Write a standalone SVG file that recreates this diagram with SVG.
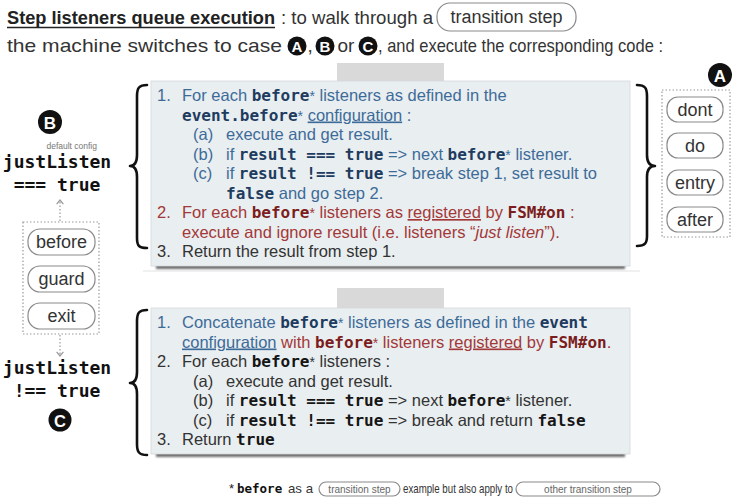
<svg xmlns="http://www.w3.org/2000/svg" width="740" height="498" viewBox="0 0 740 498">
<defs>
<style>
.sans{font-family:"Liberation Sans",Arial,Helvetica,sans-serif}
.t{font-family:"Liberation Sans",Arial,Helvetica,sans-serif;font-size:16.5px}
.m{font-family:"DejaVu Sans Mono","Liberation Mono",monospace;font-weight:bold;font-size:16px}
.ast{font-family:"Liberation Sans",Arial,sans-serif;font-weight:normal;font-size:14px}
.blu{fill:#3d6b99}
.nav{fill:#1e3b60}
.red{fill:#a33838}
.drd{fill:#7c1d1d}
.blk{fill:#333}
.kc{fill:#151515}
.u{text-decoration:underline}
.pill{fill:#fff;stroke:#8a8a8a;stroke-width:1.2}
.pt{font-family:"Liberation Sans",Arial,Helvetica,sans-serif;font-size:18px;fill:#333;text-anchor:middle}
.dot{fill:none;stroke:#9a9a9a;stroke-width:1.2;stroke-dasharray:1.5 2}
.brace{fill:none;stroke:#111;stroke-width:2.6;stroke-linecap:round;stroke-linejoin:round}
.badge{fill:#111}
.bl{font-family:"Liberation Sans",Arial,Helvetica,sans-serif;font-weight:bold;fill:#fff;text-anchor:middle}
.jl{font-family:"DejaVu Sans Mono","Liberation Mono",monospace;font-weight:bold;font-size:18px;fill:#111;text-anchor:middle}
.paper{fill:#e9eef0;stroke:#d3d8da;stroke-width:0.8}
.tab{fill:#d9d9d9}
.shadow{fill:#6d6d6d}
</style>
<filter id="blur" x="-5%" y="-100%" width="110%" height="300%"><feGaussianBlur stdDeviation="1.2"/></filter>
<marker id="arr" viewBox="0 0 10 10" refX="6" refY="5" markerWidth="7" markerHeight="7" orient="auto-start-reverse"><path d="M1,1 L6,5 L1,9" fill="none" stroke="#9a9a9a" stroke-width="1.5"/></marker>
</defs>
<rect width="740" height="498" fill="#fff"/>

<g id="title" class="sans">
<text x="7" y="24" font-weight="bold" font-size="18" fill="#222" textLength="268" lengthAdjust="spacingAndGlyphs">Step listeners queue execution</text>
<line x1="7" y1="27.5" x2="275" y2="27.5" stroke="#222" stroke-width="1.5"/>
<text x="281" y="24" font-size="19" fill="#333" textLength="152" lengthAdjust="spacingAndGlyphs">: to walk through a</text>
<rect class="pill" x="437" y="3" width="139" height="28" rx="13"/>
<text x="506.5" y="23" class="pt" font-size="19">transition step</text>
<text x="7" y="52" font-size="19" fill="#333" textLength="275" lengthAdjust="spacingAndGlyphs">the machine switches to case</text>
<circle class="badge" cx="297" cy="46" r="9.5"/>
<text x="297" y="51.5" class="bl" font-size="15">A</text>
<text x="307.5" y="52" font-size="19" fill="#333">,</text>
<circle class="badge" cx="325" cy="46" r="9.5"/>
<text x="325" y="51.5" class="bl" font-size="15">B</text>
<text x="337.5" y="52" font-size="19" fill="#333">or</text>
<circle class="badge" cx="368" cy="46" r="9.5"/>
<text x="368" y="51.5" class="bl" font-size="15">C</text>
<text x="378" y="52" font-size="19" fill="#333" textLength="285" lengthAdjust="spacingAndGlyphs">, and execute the corresponding code :</text>
</g>

<g id="box-top">
<rect class="tab" x="337" y="63" width="107" height="19"/>
<path class="shadow" d="M156,263 L625,263 L625,269 L156,269 Z" filter="url(#blur)"/>
<rect class="paper" x="151" y="81" width="479" height="185"/>
<line x1="143" y1="271" x2="640" y2="271" stroke="#e2e2e2" stroke-width="1"/>
<text x="157" y="101" class="t blu">1.</text>
<text x="182" y="101" class="t blu">For each <tspan class="m nav">before</tspan><tspan class="ast">*</tspan> listeners as defined in the</text>
<text x="182" y="120.5" class="t blu"><tspan class="m nav">event.before</tspan><tspan class="ast">*</tspan> <tspan class="u">configuration</tspan> :</text>
<text x="193" y="140" class="t blu">(a)</text>
<text x="226" y="140" class="t blu">execute and get result.</text>
<text x="193" y="159.5" class="t blu">(b)</text>
<text x="226" y="159.5" class="t blu">if <tspan class="m nav">result === true</tspan> =&gt; next <tspan class="m nav">before</tspan><tspan class="ast">*</tspan> listener.</text>
<text x="193" y="179" class="t blu">(c)</text>
<text x="226" y="179" class="t blu">if <tspan class="m nav">result !== true</tspan> =&gt; break step 1, set result to</text>
<text x="226" y="198.5" class="t blu"><tspan class="m nav">false</tspan> and go step 2.</text>
<text x="157" y="218" class="t red">2.</text>
<text x="182" y="218" class="t red">For each <tspan class="m drd">before</tspan><tspan class="ast">*</tspan> listeners as <tspan class="u">registered</tspan> by <tspan class="m drd">FSM#on</tspan> :</text>
<text x="182" y="237.5" class="t red">execute and ignore result (i.e. listeners “<tspan font-style="italic">just listen</tspan>”).</text>
<text x="157" y="257" class="t blk">3.</text>
<text x="182" y="257" class="t blk">Return the result from step 1.</text>
</g>

<g id="box-bottom">
<rect class="tab" x="337" y="288" width="107" height="21"/>
<path class="shadow" d="M156,451 L625,451 L625,457 L156,457 Z" filter="url(#blur)"/>
<rect class="paper" x="151" y="308" width="479" height="146"/>
<text x="157" y="328" class="t blu">1.</text>
<text x="182" y="328" class="t blu">Concatenate <tspan class="m nav">before</tspan><tspan class="ast">*</tspan> listeners as defined in the <tspan class="m nav">event</tspan></text>
<text x="182" y="347.5" class="t"><tspan class="blu u">configuration</tspan><tspan class="red"> with </tspan><tspan class="m drd">before</tspan><tspan class="ast red">*</tspan><tspan class="red"> listeners </tspan><tspan class="red u">registered</tspan><tspan class="red"> by </tspan><tspan class="m drd">FSM#on</tspan><tspan class="red">.</tspan></text>
<text x="157" y="367" class="t blk">2.</text>
<text x="182" y="367" class="t blk">For each <tspan class="m kc">before</tspan><tspan class="ast">*</tspan> listeners :</text>
<text x="193" y="386.5" class="t blk">(a)</text>
<text x="226" y="386.5" class="t blk">execute and get result.</text>
<text x="193" y="406" class="t blk">(b)</text>
<text x="226" y="406" class="t blk">if <tspan class="m kc">result === true</tspan> =&gt; next <tspan class="m kc">before</tspan><tspan class="ast">*</tspan> listener.</text>
<text x="193" y="425.5" class="t blk">(c)</text>
<text x="226" y="425.5" class="t blk">if <tspan class="m kc">result !== true</tspan> =&gt; break and return <tspan class="m kc">false</tspan></text>
<text x="157" y="445" class="t blk">3.</text>
<text x="182" y="445" class="t blk">Return <tspan class="m kc">true</tspan></text>
</g>

<g id="case-a">
<circle class="badge" cx="720" cy="75" r="12"/>
<text x="720" y="81.5" class="bl" font-size="17">A</text>
<rect class="dot" x="662" y="90" width="68" height="147"/>
<rect class="pill" x="667" y="97" width="56" height="25" rx="11"/>
<text x="695" y="115.5" class="pt">dont</text>
<rect class="pill" x="667" y="133" width="56" height="25" rx="11"/>
<text x="695" y="151.5" class="pt">do</text>
<rect class="pill" x="667" y="170" width="56" height="25" rx="11"/>
<text x="695" y="188.5" class="pt">entry</text>
<rect class="pill" x="667" y="207" width="56" height="25" rx="11"/>
<text x="695" y="225.5" class="pt">after</text>
</g>

<g id="case-b">
<circle class="badge" cx="50" cy="122" r="12"/>
<text x="50" y="128.5" class="bl" font-size="17">B</text>
<text x="97" y="148.5" class="sans" font-size="8.5" fill="#777" text-anchor="end">default config</text>
<text x="57" y="168" class="jl">justListen</text>
<text x="57" y="191" class="jl">=== true</text>
</g>

<g id="listeners">
<rect class="dot" x="23" y="222" width="76" height="112"/>
<rect class="pill" x="28" y="229" width="67" height="26" rx="12"/>
<text x="61.5" y="248" class="pt">before</text>
<rect class="pill" x="28" y="266" width="67" height="26" rx="12"/>
<text x="61.5" y="285" class="pt">guard</text>
<rect class="pill" x="28" y="303" width="67" height="26" rx="12"/>
<text x="61.5" y="322" class="pt">exit</text>
</g>

<g id="case-c">
<text x="57" y="374" class="jl">justListen</text>
<text x="57" y="397" class="jl">!== true</text>
<circle class="badge" cx="60" cy="420" r="11.5"/>
<text x="60" y="426.5" class="bl" font-size="16.5">C</text>
</g>

<g id="connectors">
<line class="dot" x1="60" y1="221" x2="60" y2="200" marker-end="url(#arr)"/>
<line class="dot" x1="60" y1="335" x2="60" y2="356" marker-end="url(#arr)"/>
<path class="brace" d="M147,85 C139,85 137,88 137,96 L137,155 C137,162 135,166 130,166 C135,166 137,170 137,177 L137,238 C137,246 139,248 147,248"/>
<path class="brace" d="M147,310 C139,310 137,313 137,321 L137,372 C137,379 135,383 130,383 C135,383 137,387 137,394 L137,444 C137,452 139,455 147,455"/>
<path class="brace" d="M637,85 C645,85 647,88 647,96 L647,155 C647,162 649,166 655,166 C649,166 647,170 647,177 L647,236 C647,243 645,246 637,246"/>
</g>

<g id="footnote" class="sans">
<text x="229" y="493" font-size="13" fill="#222">*</text>
<text x="237" y="493" font-family="DejaVu Sans Mono,Liberation Mono,monospace" font-weight="bold" font-size="12.5" fill="#111">before</text>
<text x="288" y="493" font-size="13" fill="#333" textLength="25" lengthAdjust="spacingAndGlyphs">as a</text>
<rect class="pill" x="319" y="482" width="81" height="14" rx="7" stroke-width="1"/>
<text x="359.5" y="492.5" font-size="10" fill="#666" text-anchor="middle">transition step</text>
<text x="403" y="493" font-size="13" fill="#333" textLength="110" lengthAdjust="spacingAndGlyphs">example but also apply to</text>
<rect class="pill" x="516" y="482" width="144" height="14" rx="7" stroke-width="1"/>
<text x="588" y="492.5" font-size="10" fill="#666" text-anchor="middle">other transition step</text>
</g>
</svg>
